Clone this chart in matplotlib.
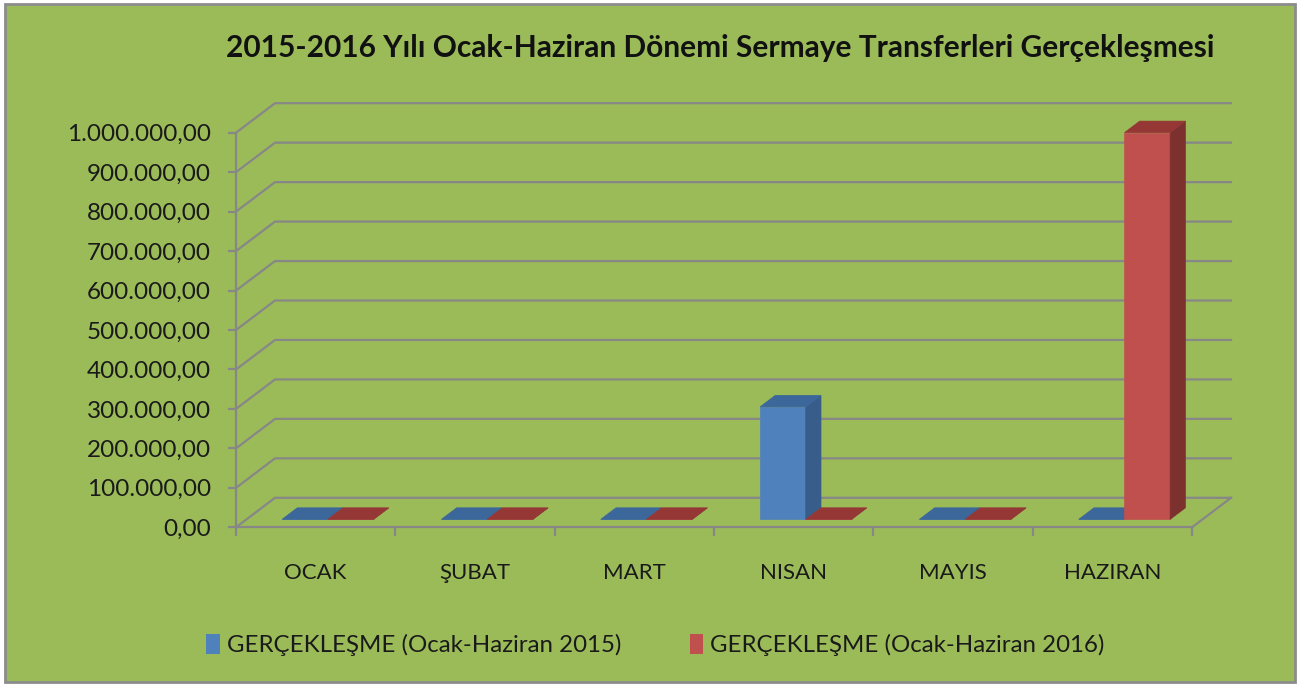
import matplotlib
matplotlib.use("Agg")
import matplotlib.pyplot as plt
from matplotlib.patches import Patch, Rectangle

plt.rcParams['font.family'] = ['Lato', 'DejaVu Sans']

months = ["OCAK", "ŞUBAT", "MART", "NISAN", "MAYIS", "HAZIRAN"]
values_2015 = [0, 0, 0, 285000, 0, 0]
values_2016 = [0, 0, 0, 0, 0, 980000]
series_names = ["GERÇEKLEŞME (Ocak-Haziran 2015)", "GERÇEKLEŞME (Ocak-Haziran 2016)"]
title = "2015-2016 Yılı Ocak-Haziran Dönemi Sermaye Transferleri Gerçekleşmesi"

bg = "#9BBB59"
grid_c = "#878787"
# front, side, top
blue = ("#4F81BD", "#385D8A", "#3C679A")
red = ("#C0504D", "#7D312F", "#953735")

W, H = 1301, 687
fig = plt.figure(figsize=(W / 100, H / 100), dpi=100)
fig.patch.set_facecolor("white")
fig.patches.append(Rectangle((5 / W, 5 / H), 1290 / W, 678 / H, transform=fig.transFigure,
                             facecolor=bg, edgecolor="#8C8C8C", linewidth=2, zorder=-5))

ax = fig.add_axes([236 / W, (H - 527.3) / H, 956 / W, 394.6 / H])
ax.set_facecolor("none")
ax.set_xlim(0, 6)
ax.set_ylim(0, 1000000)

DX = 39 / 159.3          # depth offset in category units
DY = 29.5 / 394.6 * 1e6  # depth offset in value units

# walls / gridlines
yt = list(range(0, 1000001, 100000))
for v in yt:
    ax.plot([0, DX, 6 + DX], [v, v + DY, v + DY], color=grid_c, lw=1.6,
            clip_on=False, zorder=1, solid_joinstyle="miter")
ax.plot([6, 6 + DX], [0, DY], color=grid_c, lw=1.6, clip_on=False, zorder=1)


def bar3d(x0, w, v, cols):
    d0, d1 = 0.27, 0.66
    ox0, oy0 = DX * d0, DY * d0
    ox1, oy1 = DX * d1, DY * d1
    front = [(x0 + ox0, oy0), (x0 + w + ox0, oy0), (x0 + w + ox0, v + oy0), (x0 + ox0, v + oy0)]
    side = [(x0 + w + ox0, oy0), (x0 + w + ox1, oy1), (x0 + w + ox1, v + oy1), (x0 + w + ox0, v + oy0)]
    top = [(x0 + ox0, v + oy0), (x0 + w + ox0, v + oy0), (x0 + w + ox1, v + oy1), (x0 + ox1, v + oy1)]
    for poly, c in ((front, cols[0]), (side, cols[1]), (top, cols[2])):
        xs, ys = zip(*poly)
        ax.fill(xs, ys, color=c, edgecolor=c, lw=0.5, clip_on=False, zorder=3)


bw = 0.287
off = 0.289 - DX * 0.27
for i in range(len(months)):
    bar3d(i + off, bw, values_2015[i], blue)
    bar3d(i + off + bw, bw, values_2016[i], red)

for s in ["top", "right"]:
    ax.spines[s].set_visible(False)
for s in ["left", "bottom"]:
    ax.spines[s].set_color(grid_c)
    ax.spines[s].set_linewidth(1.6)
    ax.spines[s].set_zorder(2)


def tr_fmt(v):
    return f"{v:,.2f}".replace(",", "X").replace(".", ",").replace("X", ".")


ax.set_yticks(yt)
ax.set_yticklabels([tr_fmt(v) for v in yt])
ax.tick_params(axis="y", length=6, width=1.6, color=grid_c, pad=12, labelsize=17.5, labelcolor="#1a1a1a")
ax.set_xticks(range(7))
ax.set_xticklabels([])
ax.tick_params(axis="x", which="major", length=6.5, width=1.6, color=grid_c)
ax.set_xticks([i + 0.5 for i in range(6)], minor=True)
ax.set_xticklabels(months, minor=True)
ax.tick_params(axis="x", which="minor", length=0, pad=26, labelsize=16, labelcolor="#1a1a1a")

fig.text(720 / W, 1 - 48 / H, title, ha="center", va="center", fontsize=21.5,
         fontweight="bold", color="#111111")

handles = [Patch(facecolor=blue[0], edgecolor="none"), Patch(facecolor=red[0], edgecolor="none")]
fig.legend(handles, series_names, loc="center", bbox_to_anchor=(655.5 / W, 1 - 645 / H), ncol=2,
           frameon=False, fontsize=17.3, handlelength=0.55, handleheight=0.9, handletextpad=0.3,
           columnspacing=2.85, labelcolor="#1a1a1a")

fig.savefig("out.png", dpi=100, facecolor=fig.get_facecolor())
